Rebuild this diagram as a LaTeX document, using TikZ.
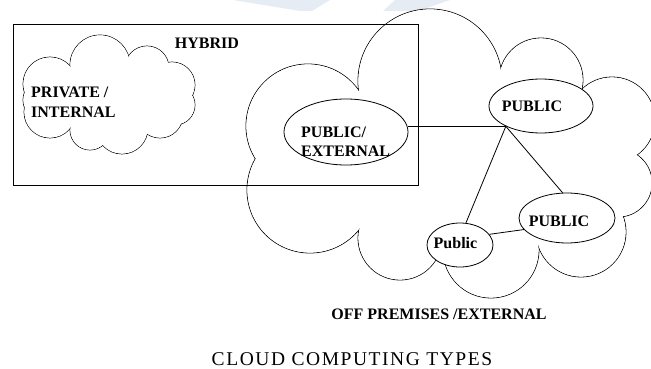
\documentclass[tikz,border=0pt]{standalone}
\usepackage{fontspec}
\setmainfont{Liberation Serif}
\newfontfamily\titlefont[LetterSpace=8]{Liberation Serif}
\usetikzlibrary{shapes.geometric}
\definecolor{wmark}{HTML}{E6ECF4}
% puffs of the two clouds: x/y/radius
\newcommand\offpuffs{308/126/62, 430/81/72, 541/80/42, 612/120/43, 618/183/34, 581/232/45, 491/250/48, 400/238/42, 310/190/63}
\newcommand\privpuffs{50/84/27, 100/65/30, 147/68/22, 172/85/23, 175/105/20, 160/115/23, 122/128/26, 90/130/20, 50/112/26, 45/100/22}
\begin{document}
\begin{tikzpicture}[x=1pt, y=-1pt]
     \tikzstyle{puffedge}=[draw=black, line width=0.8pt]
     \tikzstyle{pubnode}=[ellipse, draw, fill=white, line width=0.8pt, inner sep=0pt]
     \tikzstyle{labelnode}=[inner sep=0pt, font=\fontsize{16}{19}\selectfont\bfseries]
     \tikzstyle{link}=[draw, line width=0.8pt]
     \useasboundingbox (0,0) rectangle (651,369);
     % watermark
     \fill[wmark] (233,0) -- (300,11) -- (312,11) -- (330,0) -- cycle;
     \fill[wmark] (395,0) -- (383,11) -- (418,11) -- (450,0) -- cycle;
     % off premises cloud
     \foreach \cx/\cy/\r in \offpuffs
       \draw[puffedge] (\cx,\cy) circle[radius=\r];
     \foreach \cx/\cy/\r in \offpuffs
       \fill[white] (\cx,\cy) circle[radius=\r-0.4];
     \fill[white] (308,126) -- (430,81) -- (541,80) -- (612,120) -- (618,183)
       -- (581,232) -- (491,250) -- (400,238) -- (310,190) -- cycle;
     % private cloud
     \foreach \cx/\cy/\r in \privpuffs
       \draw[puffedge, line width=0.7pt] (\cx,\cy) circle[radius=\r];
     \foreach \cx/\cy/\r in \privpuffs
       \fill[white] (\cx,\cy) circle[radius=\r-0.35];
     \fill[white] (50,84) -- (100,65) -- (147,68) -- (172,85) -- (175,105)
       -- (160,115) -- (122,128) -- (90,130) -- (50,112) -- (45,100) -- cycle;
     % hybrid box
     \draw[line width=1pt] (13,25) rectangle (418,185);
     \node[pubnode, minimum width=124pt, minimum height=66pt] (pubext) at (346,132) {};
     \node[pubnode, minimum width=104pt, minimum height=54pt] (pubA) at (541,106) {};
     \node[pubnode, minimum width=96pt, minimum height=50pt] (pubB) at (567,218) {};
     \node[pubnode, minimum width=66pt, minimum height=44pt] (pubsm) at (460,245) {};
     \coordinate (hub) at (pubA.210);
     \draw[link] (hub) -- (hub -| pubext.east);
     \draw[link] (hub) -- (pubsm.75);
     \draw[link] (hub) -- (pubB.100);
     \draw[link] (pubsm.20) -- (pubB.195);
     \node[labelnode] (hybridlbl) at (207,43.5) {HYBRID};
     \node[labelnode, font=\fontsize{16}{20}\selectfont\bfseries, align=left, anchor=west] (privlbl) at (31,102.5) {PRIVATE /\\INTERNAL};
     \node[labelnode, align=left, anchor=west] (pubextlbl) at (301,142) {PUBLIC/\\EXTERNAL};
     \node[labelnode] (pubAlbl) at (532,106) {PUBLIC};
     \node[labelnode] (pubBlbl) at (559,221) {PUBLIC};
     \node[labelnode] (pubsmlbl) at (455.5,243) {Public};
     \node[labelnode] (offlbl) at (439,314) {OFF PREMISES /EXTERNAL};
     \node[inner sep=0pt, font=\titlefont\fontsize{19.5}{24}\selectfont] (title) at (352,359.5) {CLOUD COMPUTING TYPES};
\end{tikzpicture}
\end{document}
